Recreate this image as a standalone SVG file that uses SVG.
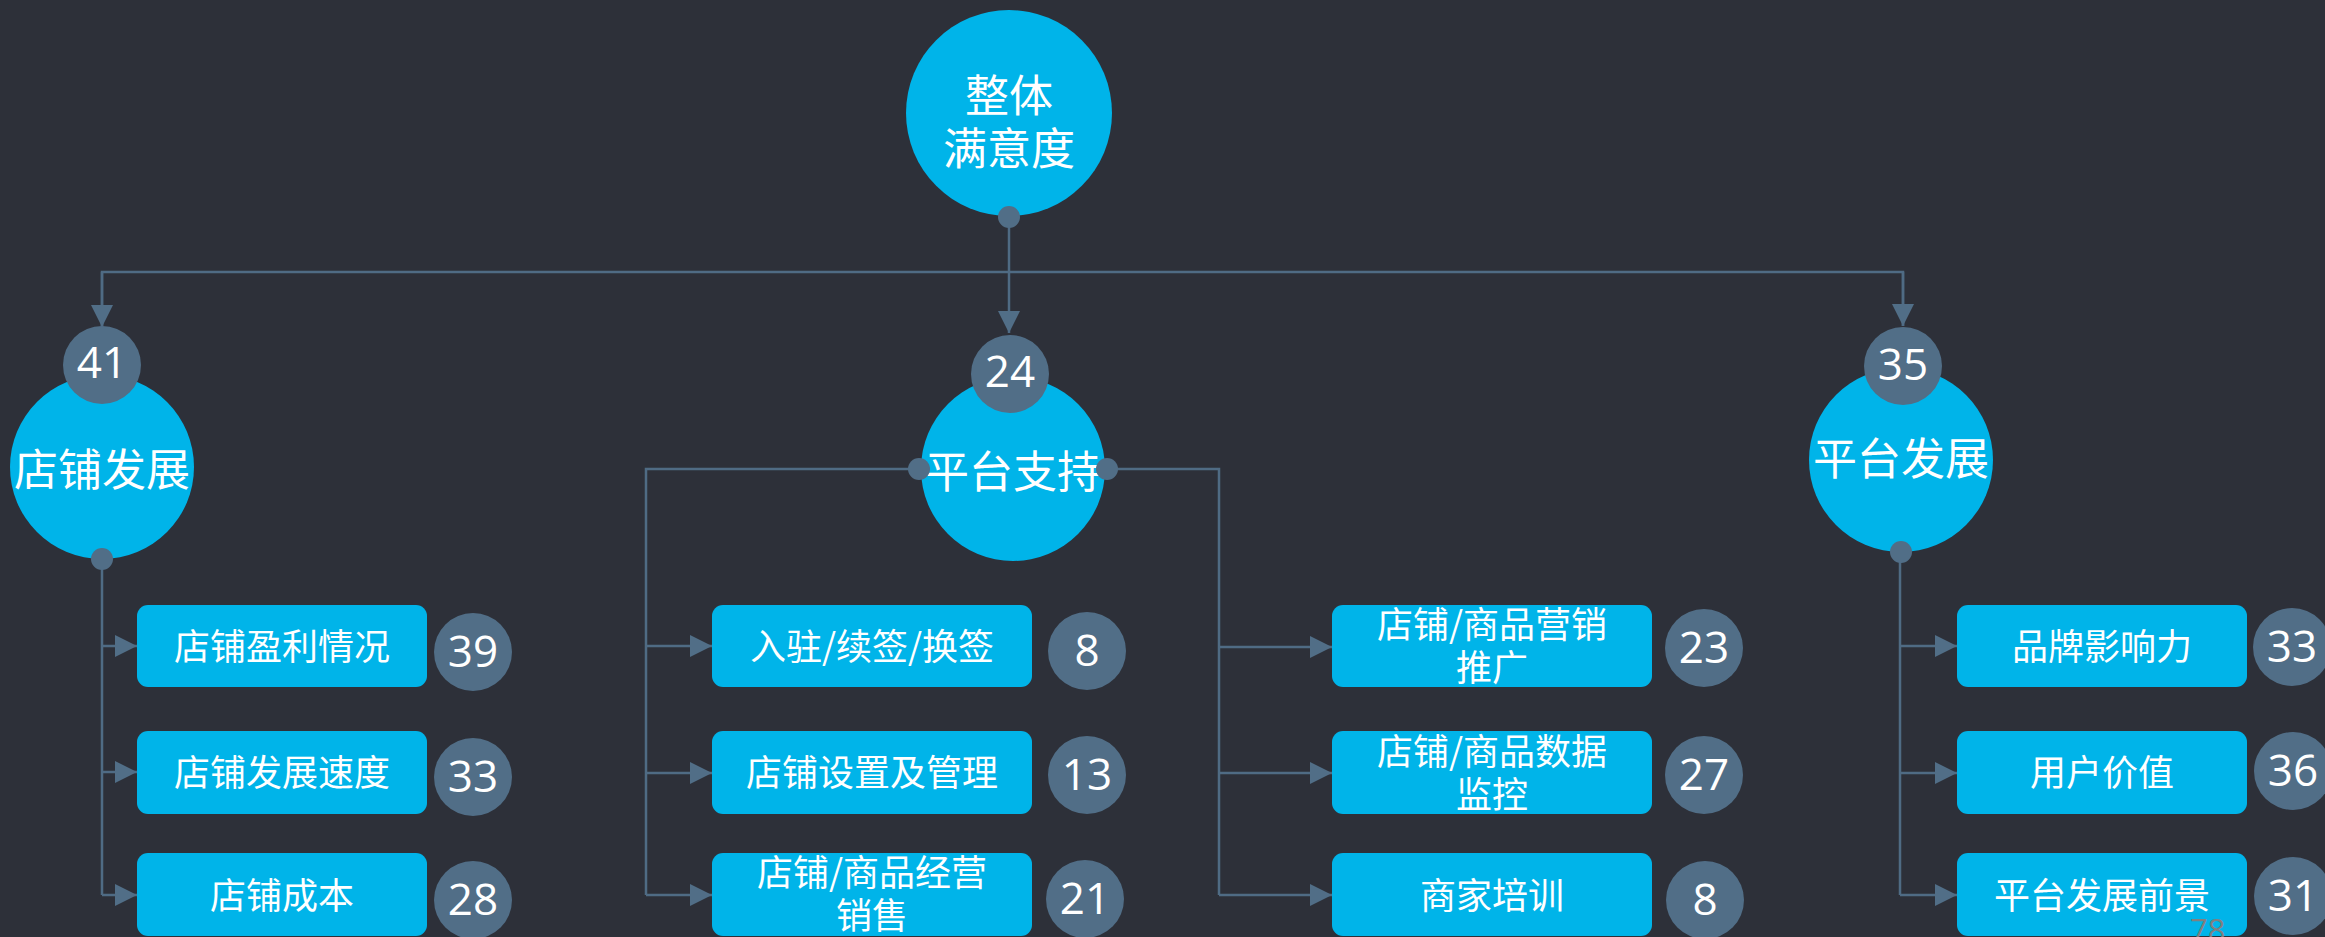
<svg xmlns="http://www.w3.org/2000/svg" width="2325" height="937" viewBox="0 0 2325 937">
<defs>
<style>
.bg{fill:#2d3039}
.main{fill:#00b4e9}
.box{fill:#00b4e9}
.num{fill:#516e87}
.cn{font-family:"Noto Sans CJK SC","Noto Sans",sans-serif;fill:#ffffff;text-anchor:middle}
.big{font-size:44px}
.mid{font-size:36px}
.n{font-family:"Open Sans","Noto Sans",sans-serif;fill:#ffffff;text-anchor:middle;font-size:44px}
.ln{fill:none;stroke:#4f6b84;stroke-width:2.5}
.dot{fill:#516e87}
.pg{font-family:"Open Sans","Noto Sans",sans-serif;fill:#7f8081;font-size:31px}
</style>
<marker id="ar" viewBox="0 0 22 22" refX="22" refY="11" markerWidth="22" markerHeight="22" markerUnits="userSpaceOnUse" orient="auto">
<path d="M0,0 L22,11 L0,22 Z" fill="#516e87"/>
</marker>
</defs>
<rect class="bg" x="0" y="0" width="2325" height="937"/>

<g id="root">
<circle class="main" cx="1009" cy="113" r="103"/>
<text class="cn big" x="1009" y="112">整体</text>
<text class="cn big" x="1009" y="165">满意度</text>
</g>

<g id="dianpu-fazhan">
<circle class="main" cx="102" cy="467" r="92"/>
<text class="cn big" x="102" y="486">店铺发展</text>
<circle class="num" cx="102" cy="365" r="39"/>
<text class="n" x="102" y="378">41</text>
</g>

<g id="pingtai-zhichi">
<circle class="main" cx="1013" cy="469" r="92"/>
<text class="cn big" x="1013" y="488">平台支持</text>
<circle class="num" cx="1010" cy="374" r="39"/>
<text class="n" x="1010" y="387">24</text>
</g>

<g id="pingtai-fazhan">
<circle class="main" cx="1901" cy="460" r="92"/>
<text class="cn big" x="1901" y="475">平台发展</text>
<circle class="num" cx="1903" cy="366" r="39"/>
<text class="n" x="1903" y="380">35</text>
</g>

<g id="yingli">
<rect class="box" x="137" y="605" width="290" height="82" rx="11"/>
<text class="cn mid" x="282" y="660">店铺盈利情况</text>
<circle class="num" cx="473" cy="652" r="39"/>
<text class="n" x="473" y="667">39</text>
</g>
<g id="sudu">
<rect class="box" x="137" y="731" width="290" height="83" rx="11"/>
<text class="cn mid" x="282" y="786">店铺发展速度</text>
<circle class="num" cx="473" cy="777" r="39"/>
<text class="n" x="473" y="792">33</text>
</g>
<g id="chengben">
<rect class="box" x="137" y="853" width="290" height="83" rx="11"/>
<text class="cn mid" x="282" y="909">店铺成本</text>
<circle class="num" cx="473" cy="900" r="39"/>
<text class="n" x="473" y="915">28</text>
</g>

<g id="ruzhu">
<rect class="box" x="712" y="605" width="320" height="82" rx="11"/>
<text class="cn mid" x="872" y="660">入驻/续签/换签</text>
<circle class="num" cx="1087" cy="651" r="39"/>
<text class="n" x="1087" y="666">8</text>
</g>
<g id="shezhi">
<rect class="box" x="712" y="731" width="320" height="83" rx="11"/>
<text class="cn mid" x="872" y="786">店铺设置及管理</text>
<circle class="num" cx="1087" cy="775" r="39"/>
<text class="n" x="1087" y="790">13</text>
</g>
<g id="jingying">
<rect class="box" x="712" y="853" width="320" height="83" rx="11"/>
<text class="cn mid" x="872" y="886">店铺/商品经营</text>
<text class="cn mid" x="872" y="929">销售</text>
<circle class="num" cx="1085" cy="899" r="39"/>
<text class="n" x="1085" y="914">21</text>
</g>

<g id="yingxiao">
<rect class="box" x="1332" y="605" width="320" height="82" rx="11"/>
<text class="cn mid" x="1492" y="638">店铺/商品营销</text>
<text class="cn mid" x="1492" y="681">推广</text>
<circle class="num" cx="1704" cy="648" r="39"/>
<text class="n" x="1704" y="663">23</text>
</g>
<g id="shuju">
<rect class="box" x="1332" y="731" width="320" height="83" rx="11"/>
<text class="cn mid" x="1492" y="765">店铺/商品数据</text>
<text class="cn mid" x="1492" y="808">监控</text>
<circle class="num" cx="1704" cy="775" r="39"/>
<text class="n" x="1704" y="790">27</text>
</g>
<g id="peixun">
<rect class="box" x="1332" y="853" width="320" height="83" rx="11"/>
<text class="cn mid" x="1492" y="909">商家培训</text>
<circle class="num" cx="1705" cy="900" r="39"/>
<text class="n" x="1705" y="915">8</text>
</g>

<g id="pinpai">
<rect class="box" x="1957" y="605" width="290" height="82" rx="11"/>
<text class="cn mid" x="2102" y="660">品牌影响力</text>
<circle class="num" cx="2292" cy="647" r="39"/>
<text class="n" x="2292" y="662">33</text>
</g>
<g id="yonghu">
<rect class="box" x="1957" y="731" width="290" height="83" rx="11"/>
<text class="cn mid" x="2102" y="786">用户价值</text>
<circle class="num" cx="2293" cy="771" r="39"/>
<text class="n" x="2293" y="786">36</text>
</g>
<g id="qianjing">
<rect class="box" x="1957" y="853" width="290" height="83" rx="11"/>
<text class="cn mid" x="2102" y="909">平台发展前景</text>
<circle class="num" cx="2293" cy="896" r="39"/>
<text class="n" x="2293" y="911">31</text>
</g>

<g id="connectors">
<path class="ln" d="M1009,217 V333" marker-end="url(#ar)"/>
<path class="ln" d="M102,327 V272 H1903 V326"/>
<path class="ln" d="M102,272 V327" marker-end="url(#ar)"/>
<path class="ln" d="M1903,272 V326" marker-end="url(#ar)"/>
<circle class="dot" cx="1009" cy="217" r="11"/>

<path class="ln" d="M102,559 V895"/>
<path class="ln" d="M102,646 H137" marker-end="url(#ar)"/>
<path class="ln" d="M102,772 H137" marker-end="url(#ar)"/>
<path class="ln" d="M102,895 H137" marker-end="url(#ar)"/>
<circle class="dot" cx="102" cy="559" r="11"/>

<path class="ln" d="M919,469 H646 V895"/>
<path class="ln" d="M646,646 H712" marker-end="url(#ar)"/>
<path class="ln" d="M646,773 H712" marker-end="url(#ar)"/>
<path class="ln" d="M646,895 H712" marker-end="url(#ar)"/>
<circle class="dot" cx="919" cy="469" r="11"/>

<path class="ln" d="M1107,469 H1219 V895"/>
<path class="ln" d="M1219,647 H1332" marker-end="url(#ar)"/>
<path class="ln" d="M1219,773 H1332" marker-end="url(#ar)"/>
<path class="ln" d="M1219,895 H1332" marker-end="url(#ar)"/>
<circle class="dot" cx="1107" cy="469" r="11"/>

<path class="ln" d="M1900,552 V895"/>
<path class="ln" d="M1900,646 H1957" marker-end="url(#ar)"/>
<path class="ln" d="M1900,773 H1957" marker-end="url(#ar)"/>
<path class="ln" d="M1900,895 H1957" marker-end="url(#ar)"/>
<circle class="dot" cx="1901" cy="552" r="11"/>
</g>

<text class="pg" x="2190" y="941">78</text>
</svg>
